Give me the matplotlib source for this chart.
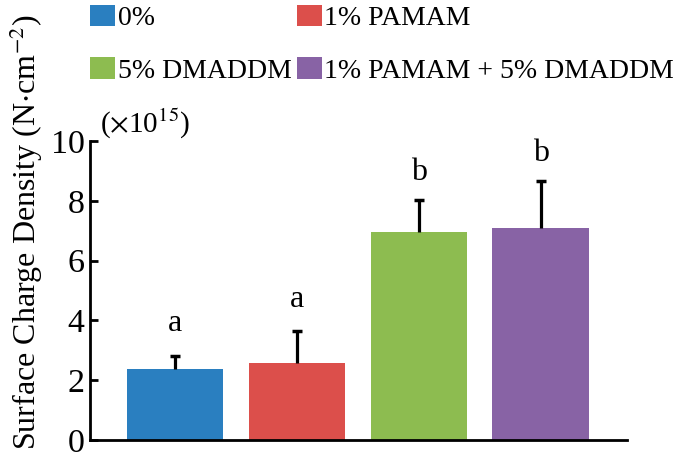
import matplotlib.pyplot as plt
from matplotlib.patches import Patch

groups = ['0%', '1% PAMAM', '5% DMADDM', '1% PAMAM + 5% DMADDM']
density = [2.36, 2.59, 6.97, 7.08]
err_up = [0.44, 1.05, 1.05, 1.58]
letters = ['a', 'a', 'b', 'b']
letter_y = [3.9, 4.7, 8.95, 9.6]
colors = ['#2A7FC0', '#DC4F4B', '#8DBC50', '#8863A5']

plt.rcParams['font.family'] = ['Liberation Serif', 'DejaVu Serif']
plt.rcParams['mathtext.fontset'] = 'stix'

fig = plt.figure(figsize=(6.83, 4.55), dpi=100)
ax = fig.add_axes([0.132, 0.033, 0.786, 0.657])

x = list(range(len(groups)))
tops = [d + e for d, e in zip(density, err_up)]
ax.bar(x, density, width=0.79, color=colors, edgecolor='none', zorder=2)
# upper error bars only (no cap at the bar top)
ax.vlines(x, density, tops, colors='black', linewidth=2.3, zorder=3)
ax.plot(x, tops, linestyle='none', marker='_', markersize=7,
        markeredgewidth=2.5, color='black', zorder=3)

for i, (lab, ly) in enumerate(zip(letters, letter_y)):
    ax.text(i, ly, lab, ha='center', va='center', fontsize=23)

ax.set_xlim(-0.70, 3.71)
ax.set_ylim(0, 10)
ax.set_yticks([0, 2, 4, 6, 8, 10])
ax.set_xticks([])
ax.tick_params(axis='y', direction='in', length=6, width=2, labelsize=24.5, pad=4)
for s in ['top', 'right']:
    ax.spines[s].set_visible(False)
for s in ['left', 'bottom']:
    ax.spines[s].set_linewidth(2)

ax.set_ylabel('Surface Charge Density (N$\\cdot$cm$^{-2}$)', fontsize=23)
ax.yaxis.set_label_coords(-0.084, 0.695)

fig.text(0.146, 0.728, '($\\times$10$^{15}$)', fontsize=21, ha='left', va='center')

order = [0, 2, 1, 3]  # fill legend row by row
handles = [Patch(facecolor=colors[i], edgecolor='none') for i in order]
fig.legend(handles, [groups[i] for i in order], loc='upper left',
           bbox_to_anchor=(0.132, 0.99), ncol=2, frameon=False, fontsize=20,
           handlelength=0.9, handleheight=0.83, handletextpad=0.1,
           columnspacing=0.18, labelspacing=0.95, borderpad=0,
           borderaxespad=0)

fig.savefig('out.png', dpi=100)
